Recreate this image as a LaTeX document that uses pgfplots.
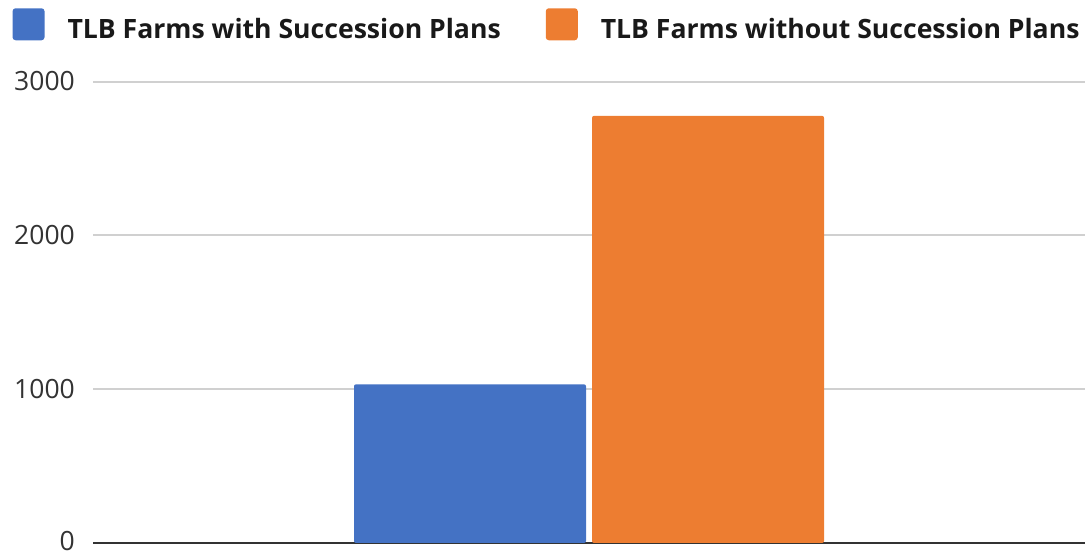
\documentclass[border=0pt]{standalone}
\usepackage{fontspec}
\setmainfont{Open Sans}
\usepackage{pgfplots}
\pgfplotsset{compat=1.18}
\definecolor{cblue}{HTML}{4472C4}
\definecolor{corange}{HTML}{ED7D31}
\definecolor{cgrid}{HTML}{D0D0D0}
\definecolor{ctext}{HTML}{333333}
\begin{document}
\begin{tikzpicture}
\path[use as bounding box] (0bp,0bp) rectangle (1091bp,555bp);
\begin{axis}[
  at={(93bp,12bp)}, anchor=south west,
  scale only axis,
  width=992bp, height=461.3bp,
  xmin=-0.5, xmax=0.5,
  ymin=0, ymax=3000,
  xtick=\empty,
  ytick={1000,2000,3000},
  extra y ticks={0},
  extra y tick style={grid style={color=black!80, line width=2.5bp}, yticklabel style={yshift=1.5bp}},
  ymajorgrids,
  grid style={color=cgrid, line width=2bp},
  axis line style={draw=none},
  tick style={draw=none},
  /pgf/number format/assume math mode=true,
  /pgf/number format/1000 sep={},
  yticklabel style={anchor=east, inner sep=0pt, xshift=-18bp, yshift=0.5bp, font=\fontsize{26.5bp}{30bp}\selectfont, text=ctext},
  ybar=6bp,
  bar width=232bp,
  legend columns=2,
  legend style={at={(axis description cs:-0.0811,1.1245)}, anchor=west,
    draw=none, fill=none, inner sep=0pt, outer sep=0pt,
    font=\fontsize{26.6bp}{30bp}\selectfont\bfseries,
    text=black!90,
    nodes={inner sep=0pt},
    /tikz/every odd column/.style={column sep=23bp},
    /tikz/every even column/.style={column sep=45bp}},
  legend image code/.code={\fill[#1, rounded corners=3bp] (0bp,-11bp) rectangle (32bp,21bp);},
]
\addplot[fill=cblue, draw=none, rounded corners=2bp] coordinates {(0,1032)};
\addplot[fill=corange, draw=none, rounded corners=2bp] coordinates {(0,2778)};
\legend{TLB Farms with Succession Plans, TLB Farms without Succession Plans}
\end{axis}
\end{tikzpicture}
\end{document}
